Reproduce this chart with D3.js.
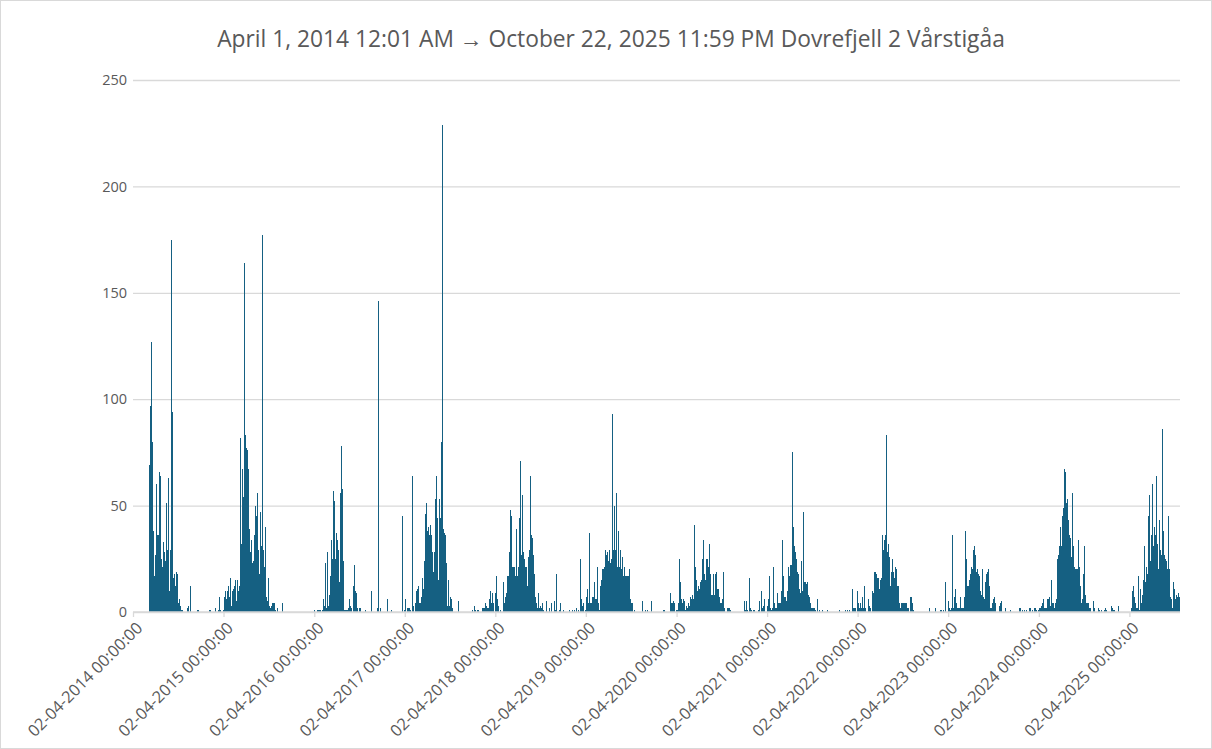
<!DOCTYPE html>
<html>
<head>
<meta charset="utf-8">
<script src="https://cdn.jsdelivr.net/npm/d3@7"></script>
<style>
body { margin: 0; background: #fff; }
svg { display: block; }
</style>
</head>
<body>
<svg id="chart" width="1212" height="749"></svg>
<script>
//one reading per 4 days, each season starting 2 April
const seasonYears = [2014,2015,2016,2017,2018,2019,2020,2021,2022,2023,2024,2025];

const v2014 = [0,0,0,0,0,0,0,0,0,0, 0,0,0,0,0,0,0,69,97,127, 80,38,17,27,60,36,36,66,64,25,
  21,33,28,24,51,29,63,10,29,175, 94,16,18,12,19,18,4,6,3,1, 1,0,0,0,0,2,3,0,12,0,
  0,0,0,0,0,1,1,0,0,0, 0,0,0,0,0,0,0,1,1,0, 0,0,0,2,0,0,1,7,1,0];
const v2015 = [1,7,10,6,10,12,7,16,3,10, 11,12,15,5,15,10,12,82,32,67, 54,164,83,77,76,67,39,28,34,23,
  24,36,50,45,56,29,18,47,31,177, 29,21,40,7,5,16,3,2,3,4, 4,4,1,0,2,0,0,0,0,4,
  0,0,0,0,0,0,0,0,0,0, 0,0,0,0,0,0,0,0,0,0, 0,0,0,0,0,0,0,0,0,0];
const v2016 = [1,0,0,1,1,1,1,0,1,6, 3,23,2,28,3,8,17,34,25,57, 52,25,37,34,29,14,56,78,58,24,
  1,1,1,1,0,2,6,3,2,0, 12,22,10,9,2,0,2,2,0,0, 0,0,1,0,0,0,0,0,10,0,
  0,0,0,0,2,146,0,2,0,0, 0,0,0,0,6,0,0,0,1,0, 0,0,0,0,0,0,0,0,0,45];
const v2017 = [1,6,0,2,2,2,1,0,64,3, 0,4,10,11,12,4,4,7,16,11, 24,46,51,38,40,36,41,36,28,19,
  28,53,64,44,15,53,44,80,229,39, 37,36,23,3,15,3,7,6,2,0, 0,0,0,0,5,0,0,0,0,0,
  0,0,0,0,0,0,0,0,1,0, 3,1,0,1,1,0,0,0,2,2, 2,4,3,2,2,6,10,4,9,4];
const v2018 = [9,17,6,3,0,1,0,0,14,4, 7,9,17,17,28,48,45,21,21,21, 17,39,17,21,44,71,27,55,28,25,
  21,21,12,26,29,64,36,35,20,27, 18,7,4,2,9,2,3,2,4,1, 0,0,5,0,0,2,0,4,0,0,
  5,1,18,0,0,1,4,0,0,1, 0,0,0,0,0,1,0,0,1,0, 1,0,2,0,1,0,25,6,3,4];
const v2019 = [1,7,11,4,37,4,4,7,7,14, 6,6,21,4,1,12,15,20,20,21, 29,27,28,24,29,23,25,93,29,50,
  29,56,21,38,21,29,20,26,17,21, 17,17,17,17,20,6,4,4,0,1, 0,0,0,0,0,0,0,5,0,0,
  1,0,1,0,0,0,5,0,0,0, 0,0,0,0,0,0,0,0,1,1, 0,0,0,0,0,9,4,4,5,4];
const v2020 = [1,1,4,25,14,6,4,6,5,1, 3,2,4,3,7,6,8,6,41,21, 15,10,12,11,14,15,25,34,18,15,
  25,25,21,32,18,8,8,18,8,18, 19,11,11,7,4,4,6,19,2,0, 0,2,2,2,1,0,0,0,0,0,
  0,0,0,0,0,0,0,0,5,1, 5,1,0,0,16,2,1,0,1,1, 0,0,0,1,5,0,10,2,3,6];
const v2021 = [3,6,17,2,1,2,21,4,2,2, 9,4,4,4,4,10,34,17,7,7, 5,10,21,17,22,22,75,40,31,28,
  25,19,18,11,9,24,10,47,14,14, 13,14,8,7,4,2,2,2,2,1, 0,6,0,1,0,0,1,0,0,0,
  0,1,0,0,0,0,0,0,0,0, 0,0,0,1,0,0,0,0,0,1, 0,1,0,1,0,0,11,2,2,2];
const v2022 = [10,4,2,4,2,7,2,12,2,0, 0,6,3,2,0,10,9,19,19,18, 16,16,11,15,16,36,29,34,36,83,
  28,32,26,12,19,25,19,16,21,20, 12,12,4,2,4,4,4,4,4,4, 2,2,0,7,7,4,1,0,0,0,
  0,0,0,0,0,0,0,0,0,0, 0,0,2,0,0,0,0,0,0,2, 0,0,0,0,1,1,0,1,0,14];
const v2023 = [5,2,1,2,36,2,7,11,4,2, 2,2,7,2,2,2,7,7,38,25, 12,12,15,18,21,20,29,31,27,19,
  20,18,17,10,8,20,7,6,14,18, 19,20,12,2,2,4,6,7,4,0, 0,0,3,4,5,0,0,0,2,0,
  0,0,0,1,0,0,0,0,0,0, 0,0,2,2,0,1,0,1,0,1, 0,0,2,2,0,1,0,2,2,1];
const v2024 = [1,2,2,3,4,6,2,2,2,6, 6,7,3,15,4,4,2,4,6,25, 27,31,40,31,45,49,67,66,51,53,
  43,36,35,26,56,31,21,20,20,20, 34,21,12,4,6,18,31,8,4,4, 4,2,2,0,0,5,2,0,0,0,
  2,1,0,1,0,0,1,2,1,0, 0,0,0,3,2,1,1,0,0,0, 3,0,0,0,0,0,0,0,0,0];
const v2025 = [0,0,2,10,12,7,4,2,2,17, 1,11,4,8,15,31,14,21,18,45, 55,24,36,60,31,40,36,64,32,20,
  43,29,27,86,38,27,25,24,20,45, 20,7,6,2,14,11,6,8,7,9, 7];

const seasons = [v2014,v2015,v2016,v2017,v2018,v2019,v2020,v2021,v2022,v2023,v2024,v2025];
const yTicks = [0,50,100,150,200,250];
const tickYears = [2014,2015,2016,2017,2018,2019,2020,2021,2022,2023,2024,2025];
const title = "April 1, 2014 12:01 AM \u2192 October 22, 2025 11:59 PM Dovrefjell 2 V\u00e5rstig\u00e5a";

let points = [];
seasons.forEach(function(vals, k) {
    let start = new Date(seasonYears[k], 3, 2);
    vals.forEach(function(v, i) {
        if (v > 0) points.push({date: d3.timeDay.offset(start, 4*i), value: v});
    });
});

const svg = d3.select("#chart");
const font = "'Open Sans', 'Noto Sans', sans-serif";
const textColor = "#595959";
const barColor = "#156082";

let x = d3.scaleTime()
    .domain([new Date(2014, 3, 2), new Date(2025, 9, 23)])
    .range([133, 1180]);
let y = d3.scaleLinear()
    .domain([0, 250])
    .range([612, 80]);

//chart border
svg.append("rect")
    .attr("x", 0.5).attr("y", 0.5)
    .attr("width", 1211).attr("height", 748)
    .attr("fill", "#fff")
    .attr("stroke", "#d9d9d9");

//fit a font size so the text spans a width
function fitText(sel, target) {
    let w = sel.node().getComputedTextLength();
    let fs = parseFloat(sel.attr("font-size"));
    sel.attr("font-size", (fs * target / w).toFixed(2));
}

//title
let t = svg.append("text")
    .attr("x", 611).attr("y", 47)
    .attr("text-anchor", "middle")
    .attr("font-family", font)
    .attr("font-size", 20)
    .attr("fill", textColor)
    .text(title);
fitText(t, 788);

//gridlines + y labels
let yAxis = svg.append("g")
    .attr("transform", "translate(133,0)")
    .call(d3.axisLeft(y).tickValues(yTicks).tickSize(-1047).tickPadding(6));
yAxis.select(".domain").remove();
yAxis.selectAll(".tick line")
    .attr("stroke", "#d9d9d9")
    .attr("stroke-width", 1.3);
yAxis.selectAll(".tick text")
    .attr("font-family", font)
    .attr("font-size", 14.5)
    .attr("fill", textColor);

//bars
svg.append("g")
    .selectAll(".bar")
    .data(points)
    .enter()
    .append("rect")
    .attr("class", "bar")
    .attr("x", function(d) { return Math.floor(x(d.date)); })
    .attr("width", 1)
    .attr("y", function(d) { return y(d.value); })
    .attr("height", function(d) { return y(0) - y(d.value); })
    .attr("fill", barColor)
    .attr("shape-rendering", "crispEdges");

//x axis
let xAxis = svg.append("g")
    .attr("transform", "translate(0,612)")
    .call(d3.axisBottom(x)
        .tickValues(tickYears.map(function(yr) { return new Date(yr, 3, 2); }))
        .tickSize(5)
        .tickFormat(function(d) { return "02-04-" + d.getFullYear() + " 00:00:00"; }));
xAxis.select(".domain")
    .attr("stroke", "#d9d9d9")
    .attr("stroke-width", 1.3)
    .attr("d", "M133,0H1180");
xAxis.selectAll(".tick line").attr("stroke", "#d9d9d9").attr("stroke-width", 1.3);
xAxis.selectAll(".tick text")
    .attr("font-family", font)
    .attr("font-size", 13)
    .attr("fill", textColor)
    .attr("text-anchor", "end")
    .attr("x", 0).attr("y", 0)
    .attr("dy", "0.35em")
    .attr("transform", "translate(6,13) rotate(-45)");
let lbl = xAxis.select(".tick text");
let lw = lbl.node().getComputedTextLength();
xAxis.selectAll(".tick text").attr("font-size", (13 * 154 / lw).toFixed(2));
</script>
</body>
</html>
